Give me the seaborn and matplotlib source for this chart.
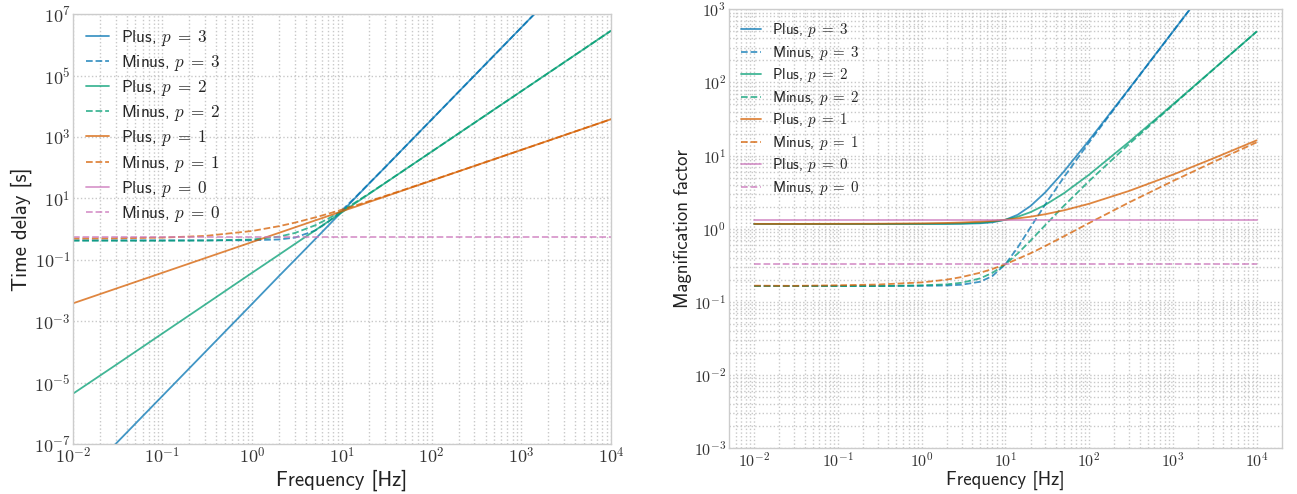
import numpy as np
import matplotlib
matplotlib.use("Agg")
import matplotlib.pyplot as plt
from matplotlib.ticker import LogLocator, NullLocator, FixedLocator, FuncFormatter
import seaborn as sns

freq = [0.01, 0.03, 0.1, 0.3, 1, 2, 3, 5, 7, 10, 14, 20, 30, 50, 100, 300, 1000, 3000, 10000]
freq_flat = [0.01, 10000]

# time delay [s]
delay_plus_p3 = [3.7e-9, 1.0e-7, 3.7e-6, 1.0e-4, 3.7e-3, 0.030, 0.10, 0.46, 1.27, 3.7, 10.2, 30, 100,
                 465, 3.7e3, 1.0e5, 3.7e6, 1.0e8, 3.7e9]
delay_minus_p3 = [0.43, 0.43, 0.43, 0.43, 0.434, 0.46, 0.53, 0.89, 1.70, 4.1, 10.6, 30.4, 100.4,
                  465, 3.7e3, 1.0e5, 3.7e6, 1.0e8, 3.7e9]
delay_plus_p2 = [4.3e-6, 3.7e-5, 4.0e-4, 3.5e-3, 0.038, 0.148, 0.33, 0.90, 1.75, 3.5, 6.9, 13.9, 30.9,
                 85, 333, 2.9e3, 3.1e4, 2.7e5, 2.9e6]
delay_minus_p2 = [0.42, 0.42, 0.42, 0.424, 0.458, 0.57, 0.75, 1.32, 2.17, 3.9, 7.3, 14.3, 31.3,
                  85, 333, 2.9e3, 3.1e4, 2.7e5, 2.9e6]
delay_plus_p1 = [3.8e-3, 0.0114, 0.038, 0.114, 0.38, 0.76, 1.14, 1.9, 2.66, 3.8, 5.3, 7.6, 11.4,
                 19, 38, 114, 380, 1140, 3800]
delay_minus_p1 = [0.494, 0.50, 0.53, 0.60, 0.87, 1.25, 1.63, 2.39, 3.15, 4.3, 5.8, 8.1, 11.9,
                  19.5, 38.5, 114, 380, 1140, 3800]
delay_minus_p0 = [0.57, 0.57]

# magnification factor
mag_plus_p3 = [1.165, 1.165, 1.165, 1.165, 1.166, 1.168, 1.172, 1.189, 1.226, 1.328, 1.553, 2.05, 3.155,
               6.07, 16.2, 81.8, 495, 2572, 15670]
mag_minus_p3 = [0.165, 0.165, 0.165, 0.165, 0.166, 0.168, 0.172, 0.189, 0.226, 0.328, 0.553, 1.05, 2.155,
                5.07, 15.2, 80.8, 494, 2571, 15669]
mag_plus_p2 = [1.165, 1.165, 1.165, 1.165, 1.169, 1.174, 1.183, 1.210, 1.250, 1.328, 1.458, 1.69, 2.125,
               3.06, 5.49, 15.4, 50.0, 149, 495.5]
mag_minus_p2 = [0.165, 0.165, 0.165, 0.165, 0.169, 0.174, 0.183, 0.210, 0.250, 0.328, 0.458, 0.69, 1.125,
                2.06, 4.49, 14.4, 49.0, 148, 494.5]
mag_plus_p1 = [1.167, 1.166, 1.169, 1.173, 1.185, 1.202, 1.219, 1.251, 1.282, 1.328, 1.387, 1.463, 1.582,
               1.789, 2.199, 3.29, 5.49, 9.1, 16.17]
mag_minus_p1 = [0.167, 0.166, 0.169, 0.173, 0.185, 0.202, 0.219, 0.251, 0.282, 0.328, 0.387, 0.463, 0.582,
                0.789, 1.199, 2.29, 4.49, 8.1, 15.17]
mag_plus_p0 = [1.328, 1.328]
mag_minus_p0 = [0.328, 0.328]

sns.set_theme(style="whitegrid")
pal = sns.color_palette("colorblind")
col = {3: pal[0], 2: pal[2], 1: pal[3], 0: pal[4]}

plt.rcParams["font.family"] = ["cmss10", "DejaVu Sans"]
plt.rcParams["mathtext.fontset"] = "cm"
plt.rcParams["axes.unicode_minus"] = False

fig = plt.figure(figsize=(12.97, 4.94), dpi=100)
ax1 = fig.add_axes([0.0561, 0.1012, 0.415, 0.870])
ax2 = fig.add_axes([0.5621, 0.0925, 0.4261, 0.8887])

LW = 1.3
ALPHA = 0.75


def draw(ax, x, y, p, dashed, label):
    sns.lineplot(x=x, y=y, ax=ax, color=col[p], lw=LW, alpha=ALPHA,
                 linestyle="--" if dashed else "-", label=label,
                 estimator=None, sort=False)


def lab(kind, p):
    return kind + r", $p\;=\;%d$" % p


def decade(v, pos):
    return r"$10^{%d}$" % int(round(np.log10(v)))


for ax in (ax1, ax2):
    ax.set_xscale("log")
    ax.set_yscale("log")

# left: time delay
draw(ax1, freq, delay_plus_p3, 3, False, lab("Plus", 3))
draw(ax1, freq, delay_minus_p3, 3, True, lab("Minus", 3))
draw(ax1, freq, delay_plus_p2, 2, False, lab("Plus", 2))
draw(ax1, freq, delay_minus_p2, 2, True, lab("Minus", 2))
draw(ax1, freq, delay_plus_p1, 1, False, lab("Plus", 1))
draw(ax1, freq, delay_minus_p1, 1, True, lab("Minus", 1))
ax1.plot([], [], color=col[0], lw=LW, alpha=ALPHA, label=lab("Plus", 0))
draw(ax1, freq_flat, delay_minus_p0, 0, True, lab("Minus", 0))

# right: magnification
draw(ax2, freq, mag_plus_p3, 3, False, lab("Plus", 3))
draw(ax2, freq, mag_minus_p3, 3, True, lab("Minus", 3))
draw(ax2, freq, mag_plus_p2, 2, False, lab("Plus", 2))
draw(ax2, freq, mag_minus_p2, 2, True, lab("Minus", 2))
draw(ax2, freq, mag_plus_p1, 1, False, lab("Plus", 1))
draw(ax2, freq, mag_minus_p1, 1, True, lab("Minus", 1))
draw(ax2, freq_flat, mag_plus_p0, 0, False, lab("Plus", 0))
draw(ax2, freq_flat, mag_minus_p0, 0, True, lab("Minus", 0))

ax1.set_xlim(1e-2, 1e4)
ax1.set_ylim(1e-7, 1e7)
ax1.yaxis.set_major_locator(FixedLocator([1e-7, 1e-5, 1e-3, 1e-1, 1e1, 1e3, 1e5, 1e7]))
ax1.yaxis.set_minor_locator(NullLocator())
ax2.set_ylim(1e-3, 1e3)

for ax in (ax1, ax2):
    ax.xaxis.set_major_locator(LogLocator(base=10, numticks=20))
    ax.xaxis.set_minor_locator(LogLocator(base=10, subs=np.arange(2, 10), numticks=20))
    ax.xaxis.set_major_formatter(FuncFormatter(decade))
    ax.yaxis.set_major_formatter(FuncFormatter(decade))
    ax.grid(True, which="major", color="#c8c8c8", linestyle=":", linewidth=1.0)
    ax.grid(True, which="minor", axis="x", color="#c8c8c8", linestyle=":", linewidth=1.0)
    for s in ax.spines.values():
        s.set_color("#cccccc")
        s.set_linewidth(1.0)
    ax.tick_params(which="both", length=0)

ax2.yaxis.set_major_locator(LogLocator(base=10, numticks=20))
ax2.yaxis.set_minor_locator(LogLocator(base=10, subs=np.arange(2, 10), numticks=20))
ax2.grid(True, which="minor", axis="y", color="#c8c8c8", linestyle=":", linewidth=1.0)

ax1.tick_params(axis="both", labelsize=13, pad=1.5, colors="#333333")
ax2.tick_params(axis="both", labelsize=11.5, pad=2, colors="#333333")

ax1.set_xlabel("Frequency [Hz]", fontsize=15, color="#222222", labelpad=2)
ax1.set_ylabel("Time delay [s]", fontsize=15, color="#222222", labelpad=1)
ax2.set_xlabel("Frequency [Hz]", fontsize=13.5, color="#222222", labelpad=1)
ax2.set_ylabel("Magnification factor", fontsize=13.5, color="#222222", labelpad=1)

ax1.legend(loc="upper left", frameon=False, fontsize=12.3, handlelength=1.3,
           labelspacing=0.3, borderaxespad=0.4, handletextpad=0.75)
ax2.legend(loc="upper left", frameon=False, fontsize=10.8, handlelength=1.3,
           labelspacing=0.3, borderaxespad=0.4, handletextpad=0.75)

fig.savefig("out.png", dpi=100)
